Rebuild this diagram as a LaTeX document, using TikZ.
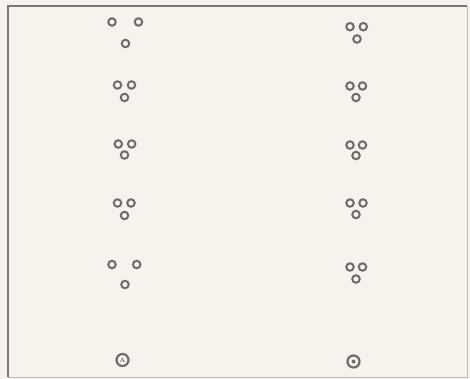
\documentclass[tikz,border=0pt]{standalone}
\usetikzlibrary{calc}
\definecolor{paper}{HTML}{F6F3EC}
\definecolor{ring}{HTML}{6E6C68}
\definecolor{frameline}{HTML}{7A7874}
\tikzset{
  hole/.style={circle,draw=ring,line width=2pt,minimum size=7.5pt,inner sep=0pt},
  bighole/.style={circle,draw=ring,line width=2.2pt,minimum size=12pt,inner sep=0pt},
}
\begin{document}
\begin{tikzpicture}[x=1pt,y=-1pt]
\fill[paper] (0,0) rectangle (470,379);
\useasboundingbox (0,0) rectangle (470,379);
\draw[frameline,line width=1.6pt] (8,377) -- (8,6) -- (467,6);
\draw[frameline!50,line width=0.8pt] (467,6) -- (467,377) -- (8,377);
% left column
\node[hole] (l1a) at (112,22) {};
\node[hole] (l1b) at (138.5,22) {};
\node[hole] (l1c) at (125.5,43.5) {};
\node[hole] (l2a) at (117.5,85) {};
\node[hole] (l2b) at (131.5,85) {};
\node[hole] (l2c) at (124.5,97.5) {};
\node[hole] (l3a) at (118.3,144) {};
\node[hole] (l3b) at (131.7,144) {};
\node[hole] (l3c) at (124.5,155) {};
\node[hole] (l4a) at (117.5,203) {};
\node[hole] (l4b) at (131,203) {};
\node[hole] (l4c) at (124.5,215.5) {};
\node[hole] (l5a) at (112,264.5) {};
\node[hole] (l5b) at (136.7,264.5) {};
\node[hole] (l5c) at (125,284.5) {};
% right column
\node[hole] (r1a) at (350,26.7) {};
\node[hole] (r1b) at (363.3,26.7) {};
\node[hole] (r1c) at (357,39) {};
\node[hole] (r2a) at (350,86) {};
\node[hole] (r2b) at (362.5,86) {};
\node[hole] (r2c) at (356,97.5) {};
\node[hole] (r3a) at (350,145) {};
\node[hole] (r3b) at (362.5,145) {};
\node[hole] (r3c) at (356,155.5) {};
\node[hole] (r4a) at (350,203) {};
\node[hole] (r4b) at (363,203) {};
\node[hole] (r4c) at (356,214.5) {};
\node[hole] (r5a) at (350,267) {};
\node[hole] (r5b) at (362.5,267) {};
\node[hole] (r5c) at (356,279) {};
% bottom markers
\node[bighole,font=\fontsize{6}{6}\selectfont\bfseries,text=ring] (la) at (122.5,360) {A};
\node[bighole] (rb) at (353.5,361.5) {};
\fill[ring] (rb.center) circle (2pt);
\end{tikzpicture}
\end{document}
